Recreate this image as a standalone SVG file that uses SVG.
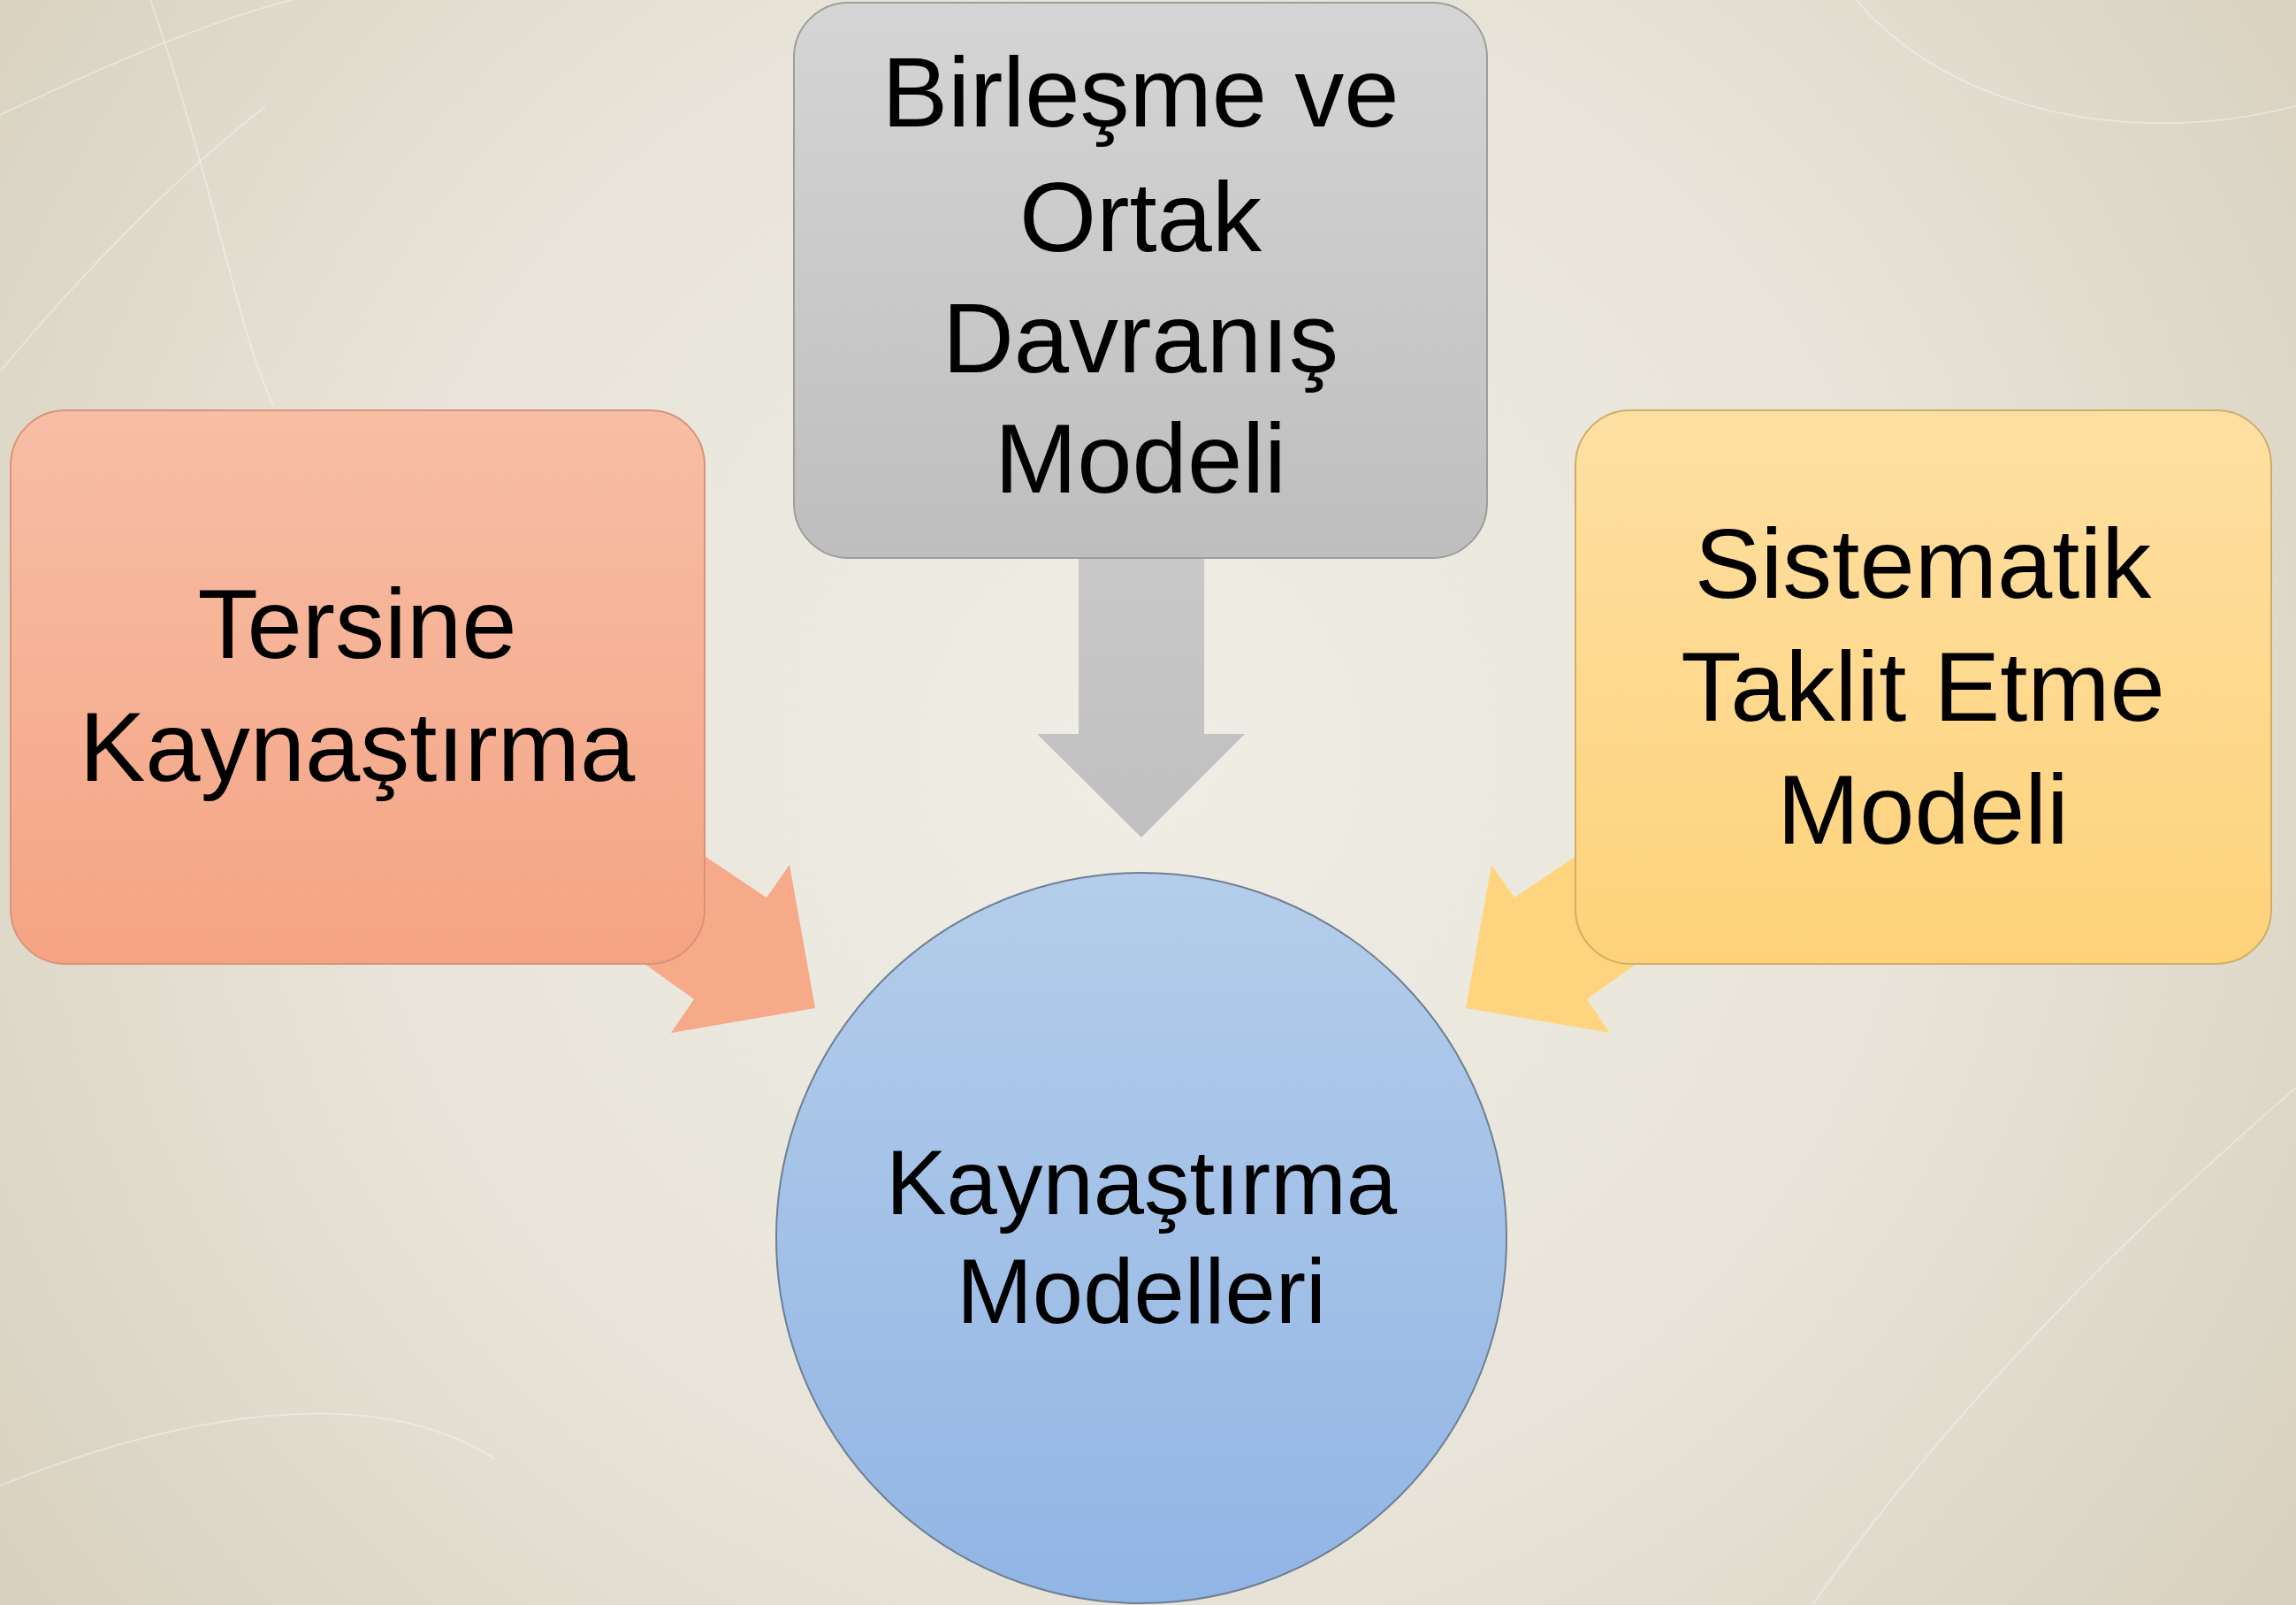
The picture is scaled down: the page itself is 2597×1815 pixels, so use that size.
<svg xmlns="http://www.w3.org/2000/svg" width="2597" height="1815" viewBox="0 0 2597 1815">
<defs>
<radialGradient id="bg" cx="1290" cy="850" r="1600" gradientUnits="userSpaceOnUse">
<stop offset="0" stop-color="#efede5"/>
<stop offset="0.55" stop-color="#e8e4d9"/>
<stop offset="1" stop-color="#d8d1bf"/>
</radialGradient>
<linearGradient id="gGray" x1="0" y1="0" x2="0" y2="1">
<stop offset="0" stop-color="#d5d5d5"/>
<stop offset="1" stop-color="#bebebe"/>
</linearGradient>
<linearGradient id="gSalmon" x1="0" y1="0" x2="0" y2="1">
<stop offset="0" stop-color="#f7bea6"/>
<stop offset="1" stop-color="#f5a483"/>
</linearGradient>
<linearGradient id="gYellow" x1="0" y1="0" x2="0" y2="1">
<stop offset="0" stop-color="#fee0a3"/>
<stop offset="1" stop-color="#fed27a"/>
</linearGradient>
<linearGradient id="gBlue" x1="0" y1="0" x2="0" y2="1">
<stop offset="0" stop-color="#b4cdea"/>
<stop offset="1" stop-color="#91b5e5"/>
</linearGradient>
<linearGradient id="gArrowGray" x1="0" y1="0" x2="0" y2="1">
<stop offset="0" stop-color="#c8c8c8"/>
<stop offset="1" stop-color="#c0c0c0"/>
</linearGradient>
</defs>
<style>
.lbl{font-family:"Liberation Sans",Arial,sans-serif;font-size:112px;fill:#000;text-anchor:middle}
.lblc{font-family:"Liberation Sans",Arial,sans-serif;font-size:103px;fill:#000;text-anchor:middle}
.box{stroke-width:2}
.bg-line{fill:none;stroke:#ffffff;stroke-opacity:0.35;stroke-width:2}
</style>
<rect x="0" y="0" width="2597" height="1815" fill="url(#bg)"/>
<g id="background-decor">
<path class="bg-line" d="M0,130 C150,60 250,20 330,0"/>
<path class="bg-line" d="M170,0 C240,200 270,380 310,460"/>
<path class="bg-line" d="M0,420 C100,300 200,200 300,120"/>
<path class="bg-line" d="M0,1680 C200,1600 420,1560 560,1650"/>
<path class="bg-line" d="M2597,1230 C2400,1400 2200,1600 2050,1815"/>
<path class="bg-line" d="M2100,0 C2200,120 2400,170 2597,120"/>
</g>
<g id="connectors">
<polygon id="arrow-left" points="700,903 867,1015 893,978 922,1140 759,1168 785,1130 640,1026" fill="#f6aa89"/>
<polygon id="arrow-right" points="1880,903 1713,1015 1687,978 1658,1140 1821,1168 1795,1130 1940,1026" fill="#fed57e"/>
<polygon id="arrow-top" points="1220,625 1362,625 1362,830 1408,830 1291,947 1173,830 1220,830" fill="url(#gArrowGray)"/>
</g>
<g id="node-birlesme">
<rect class="box" x="898" y="3" width="784" height="628" rx="62" fill="url(#gGray)" stroke="#9d9d9d"/>
<text class="lbl" x="1290" y="143">Birleşme ve</text>
<text class="lbl" x="1290" y="284">Ortak</text>
<text class="lbl" x="1290" y="421">Davranış</text>
<text class="lbl" x="1290" y="557">Modeli</text>
</g>
<g id="node-tersine">
<rect class="box" x="12" y="464" width="785" height="626" rx="62" fill="url(#gSalmon)" stroke="#d9937a"/>
<text class="lbl" x="404" y="744">Tersine</text>
<text class="lbl" x="404" y="883">Kaynaştırma</text>
</g>
<g id="node-sistematik">
<rect class="box" x="1782" y="464" width="787" height="626" rx="62" fill="url(#gYellow)" stroke="#cfae66"/>
<text class="lbl" x="2175" y="676">Sistematik</text>
<text class="lbl" x="2175" y="815">Taklit Etme</text>
<text class="lbl" x="2175" y="954">Modeli</text>
</g>
<g id="node-kaynastirma">
<circle cx="1291" cy="1400" r="413" fill="url(#gBlue)" stroke="#6f7f93" stroke-width="2"/>
<text class="lblc" x="1291" y="1373">Kaynaştırma</text>
<text class="lblc" x="1291" y="1496">Modelleri</text>
</g>
</svg>
